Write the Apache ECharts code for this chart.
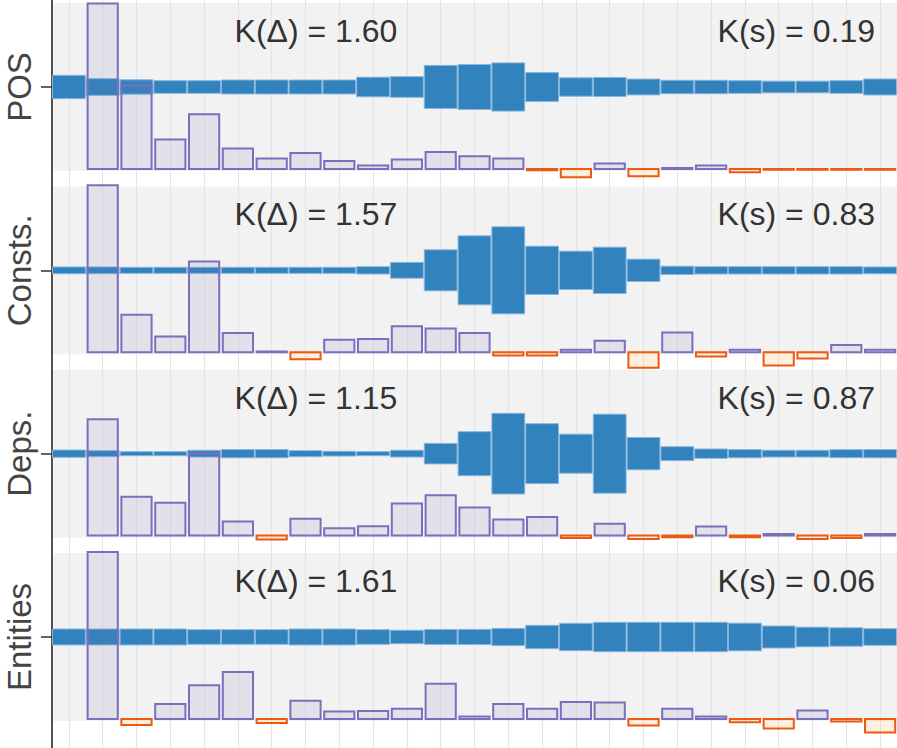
<!DOCTYPE html>
<html><head><meta charset="utf-8">
<script src="https://cdn.jsdelivr.net/npm/echarts@6/dist/echarts.min.js"></script>
<style>html,body{margin:0;padding:0;background:#fff}#c{width:897px;height:748px}</style>
</head><body><div id="c"></div>
<script>
// ---- data ----
const categories = ['POS', 'Consts.', 'Deps.', 'Entities'];
const kDelta = [1.60, 1.57, 1.15, 1.61];
const kS = [0.19, 0.83, 0.87, 0.06];
const binCount = 25;

// blue spread per bin (percent of a category band)
const spreadPOS = [12.7, 9.1, 7.8, 6.9, 6.9, 7.6, 7.6, 7.6, 7.6, 10.7, 11.3, 23.5, 24.5, 26.3, 15.7, 10.0, 10.4, 8.6, 7.3, 7.3, 6.9, 6.4, 6.4, 6.9, 8.7];
const spreadConsts = [3.7, 3.7, 3.3, 3.3, 3.3, 3.3, 3.3, 3.3, 3.3, 4.0, 8.6, 22.4, 37.6, 47.5, 26.3, 20.9, 25.3, 12.2, 4.5, 4.0, 4.0, 4.0, 4.0, 4.0, 3.7];
const spreadDeps = [4.0, 3.3, 2.2, 2.2, 3.7, 4.5, 4.5, 3.3, 2.6, 2.2, 3.7, 11.2, 24.0, 44.0, 32.7, 21.3, 43.1, 17.6, 7.6, 5.1, 4.5, 3.7, 3.7, 4.4, 4.5];
const spreadEntities = [8.7, 8.7, 8.7, 8.7, 8.0, 8.0, 8.0, 8.7, 8.7, 8.0, 7.3, 8.2, 8.3, 9.4, 12.7, 14.9, 16.0, 16.0, 16.0, 16.0, 15.1, 12.0, 10.7, 10.0, 9.1];

// histogram differences per bin (percent of the largest bar)
const diffPOS = [null, 99, 50, 17.7, 32.8, 12.2, 6.2, 9.6, 4.7, 2.1, 5.6, 10.2, 7.6, 6.2, -0.8, -5, 3.2, -4.4, 0.5, 2.1, -2, -0.5, -0.5, -0.5, -0.5];
const diffConsts = [null, 100, 22.4, 9.5, 54.3, 11.5, 0.5, -4.2, 7.5, 7.9, 15.6, 14.3, 11.5, -2, -2, 1.5, 6.9, -9.3, 11.9, -2.6, 1.5, -7.9, -3.8, 4.4, 1.5];
const diffDeps = [null, 69.7, 23.2, 19.6, 49.1, 8.5, -2.4, 10.1, 4.4, 5.6, 19.2, 24.2, 16.8, 9.7, 11.1, -1.5, 7.1, -2, -1, 5.5, -1, 1, -2, -1.5, 1];
const diffEntities = [null, 100, -3.6, 8.9, 20.2, 28.1, -2.5, 10.9, 4.4, 4.8, 6.1, 21, 1.5, 8.9, 6.1, 10.1, 9.9, -4, 6.1, 1.5, -2, -5.7, 5, -1.5, -8.1];

const spreads = [spreadPOS, spreadConsts, spreadDeps, spreadEntities];
const diffs = [diffPOS, diffConsts, diffDeps, diffEntities];

// ---- layout constants ----
const Y_MIN = -0.4745, Y_MAX = 3.6055;
const PANEL_HALF = 0.458;
const BASE_OFF = 0.447;
const HIST_SCALE = 0.911 / 100;
const SPREAD_SCALE = 1 / 100;
const TEXT_OFF = -0.305;
const KD_X = 7.81, KS_X = 22.02;
const FONT = "'Liberation Sans', Arial, Helvetica, sans-serif";

const panelData = categories.map((c, k) => [k]);
const blueData = [];
const histData = [];
spreads.forEach((arr, k) => arr.forEach((v, i) => blueData.push([i, i + 1, k, v])));
diffs.forEach((arr, k) => arr.forEach((v, i) => { if (v !== null) histData.push([i, i + 1, k, v]); }));
const textData = [];
categories.forEach((c, k) => {
  textData.push([KD_X, k + TEXT_OFF, 'K(\u0394) = ' + kDelta[k].toFixed(2)]);
  textData.push([KS_X, k + TEXT_OFF, 'K(s) = ' + kS[k].toFixed(2)]);
});

const chart = echarts.init(document.getElementById('c'), null, { renderer: 'svg' });
chart.setOption({
  animation: false,
  backgroundColor: '#ffffff',
  grid: { left: 52, top: 0, width: 846, height: 748, containLabel: false },
  xAxis: {
    type: 'value', min: 0, max: binCount, interval: 1,
    axisLine: { show: false }, axisTick: { show: false }, axisLabel: { show: false },
    splitLine: { show: false },
    minorTick: { show: false, splitNumber: 2 },
    minorSplitLine: { show: true, lineStyle: { color: '#e4e4e4', width: 1.2 } }
  },
  yAxis: {
    type: 'value', min: Y_MIN, max: Y_MAX, inverse: true,
    axisLine: { show: true, lineStyle: { color: '#1a1a1a', width: 1.5 } },
    axisTick: { show: true, customValues: [0, 1, 2, 3], length: 11, lineStyle: { color: '#333', width: 1.5 } },
    axisLabel: {
      customValues: [0, 1, 2, 3], formatter: v => categories[Math.round(v)] || '',
      rotate: 90, fontSize: 33, color: '#444', margin: 16, fontFamily: FONT
    },
    splitLine: { show: false }
  },
  series: [
    {
      type: 'custom', name: 'panel', z: -1, silent: true, data: panelData,
      renderItem: (params, api) => {
        const k = api.value(0);
        const p0 = api.coord([0, k - PANEL_HALF]);
        const p1 = api.coord([binCount, k + PANEL_HALF]);
        return { type: 'rect', shape: { x: p0[0], y: p0[1], width: p1[0] - p0[0], height: p1[1] - p0[1] },
          style: { fill: 'rgba(0,0,0,0.05)' } };
      }
    },
    {
      type: 'custom', name: 'spread', data: blueData,
      renderItem: (params, api) => {
        const k = api.value(2), h = api.value(3) * SPREAD_SCALE / 2;
        const p0 = api.coord([api.value(0), k - h]);
        const p1 = api.coord([api.value(1), k + h]);
        return { type: 'rect', shape: { x: p0[0] + 0.5, y: p0[1], width: p1[0] - p0[0] - 1, height: p1[1] - p0[1] },
          style: { fill: '#3182bd', stroke: '#86b6dd', lineWidth: 1 } };
      }
    },
    {
      type: 'custom', name: 'diff', data: histData,
      renderItem: (params, api) => {
        const k = api.value(2), v = api.value(3);
        const base = k + BASE_OFF;
        const top = base - v * HIST_SCALE;
        const p0 = api.coord([api.value(0), top]);
        const p1 = api.coord([api.value(1), base]);
        const y0 = Math.min(p0[1], p1[1]), hh = Math.abs(p1[1] - p0[1]);
        const pos = v >= 0;
        return { type: 'rect', shape: { x: p0[0] + 1.8, y: y0, width: p1[0] - p0[0] - 3.6, height: hh },
          style: { fill: pos ? 'rgba(117,107,177,0.12)' : 'rgba(253,208,162,0.35)', stroke: pos ? '#7b6fbd' : '#ec5a12', lineWidth: 2 } };
      }
    },
    {
      type: 'custom', name: 'labels', data: textData, silent: true,
      renderItem: (params, api) => {
        const p = api.coord([api.value(0), api.value(1)]);
        return { type: 'text', x: p[0], y: p[1],
          style: { text: textData[params.dataIndex][2], fontSize: 32, fontFamily: FONT, fill: '#333', align: 'center', verticalAlign: 'middle' } };
      }
    }
  ]
});
</script></body></html>
